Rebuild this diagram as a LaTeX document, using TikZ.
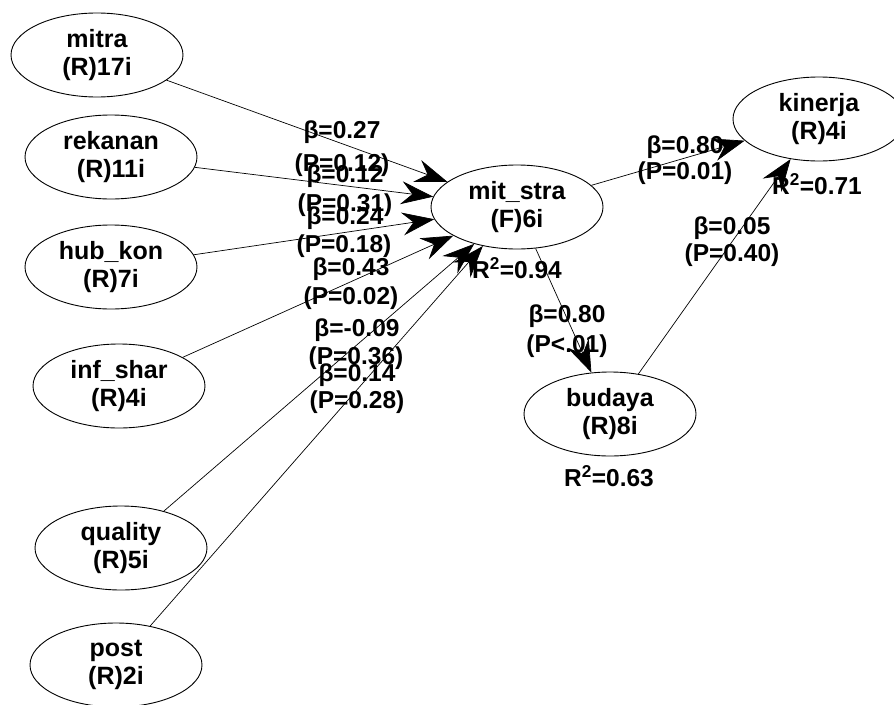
\documentclass[tikz,border=0pt]{standalone}
\usepackage{fontspec}
\setmainfont{Liberation Sans}
\usetikzlibrary{shapes.geometric,arrows.meta}
\tikzset{
  lv/.style={ellipse, draw=black, line width=0.9pt, minimum width=172pt, minimum height=84pt, inner sep=0pt, align=center, font=\bfseries\fontsize{25}{28}\selectfont},
  lbl/.style={inner sep=0pt, font=\bfseries\fontsize{24.5}{28}\selectfont},
  path/.style={draw=black, line width=0.7pt, -{Stealth[length=32pt,width=23pt,inset=11pt]}},
}
\begin{document}
\begin{tikzpicture}[x=1pt,y=-1pt]
\useasboundingbox (0,0) rectangle (894,704);
\fill[white] (0,0) rectangle (894,704);
\begin{scope}
\clip (0,0) rectangle (894,704);
\node[lv] (mitra) at (97,55) {mitra\\(R)17i};
\node[lv] (rekanan) at (111,157) {rekanan\\(R)11i};
\node[lv] (hubkon) at (111,267) {hub\_kon\\(R)7i};
\node[lv] (infshar) at (119,386) {inf\_shar\\(R)4i};
\node[lv] (quality) at (121,548) {quality\\(R)5i};
\node[lv] (post) at (116,665) {post\\(R)2i};
\node[lv] (mitstra) at (517,207) {mit\_stra\\(F)6i};
\node[lv] (kinerja) at (819,119) {kinerja\\(R)4i};
\node[lv] (budaya) at (610,414) {budaya\\(R)8i};

\path[path] (mitra) -- (mitstra);
\path[path] (rekanan) -- (mitstra);
\path[path] (hubkon) -- (mitstra);
\path[path] (infshar) -- (mitstra);
\path[path] (quality) -- (mitstra);
\path[path] (post) -- (mitstra);
\path[path] (mitstra) -- (kinerja);
\path[path] (mitstra) -- (budaya);
\path[path] (budaya) -- (kinerja);
\end{scope}

\node[lbl] (b1) at (342,132) {β=0.27};
\node[lbl] (p1) at (342,165) {(P=0.12)};
\node[lbl] (b2) at (345,176) {β=0.12};
\node[lbl] (p2) at (345,205) {(P=0.31)};
\node[lbl] (b3) at (345,218) {β=0.24};
\node[lbl] (p3) at (344,246) {(P=0.18)};
\node[lbl] (b4) at (351,269) {β=0.43};
\node[lbl] (p4) at (351,298) {(P=0.02)};
\node[lbl] (b5) at (357,330) {β=-0.09};
\node[lbl] (p5) at (356,358) {(P=0.36)};
\node[lbl] (b6) at (357,375) {β=0.14};
\node[lbl] (p6) at (357,402) {(P=0.28)};
\node[lbl] (b7) at (685,147) {β=0.80};
\node[lbl] (p7) at (685,173) {(P=0.01)};
\node[lbl] (r1) at (817,184) {R\textsuperscript{2}=0.71};
\node[lbl] (b8) at (732,228) {β=0.05};
\node[lbl] (p8) at (732,255) {(P=0.40)};
\node[lbl] (r2) at (517,268) {R\textsuperscript{2}=0.94};
\node[lbl] (b9) at (567,316) {β=0.80};
\node[lbl] (p9) at (567,346) {(P<.01)};
\node[lbl] (r3) at (609,476) {R\textsuperscript{2}=0.63};
\end{tikzpicture}
\end{document}
